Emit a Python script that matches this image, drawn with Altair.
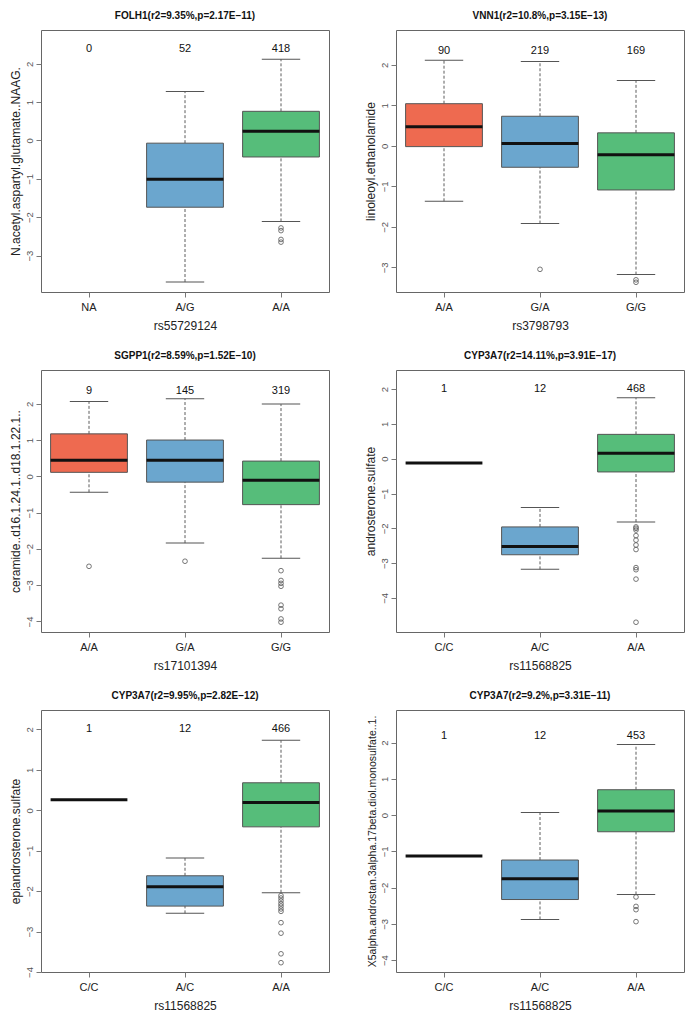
import altair as alt
import pandas as pd

# ---------------- data ----------------
titles = [
    "FOLH1(r2=9.35%,p=2.17E\u221211)",
    "VNN1(r2=10.8%,p=3.15E\u221213)",
    "SGPP1(r2=8.59%,p=1.52E\u221210)",
    "CYP3A7(r2=14.11%,p=3.91E\u221217)",
    "CYP3A7(r2=9.95%,p=2.82E\u221212)",
    "CYP3A7(r2=9.2%,p=3.31E\u221211)",
]
ytitles = [
    "N.acetyl.aspartyl.glutamate..NAAG.",
    "linoleoyl.ethanolamide",
    "ceramide..d16.1.24.1..d18.1.22.1..",
    "androsterone.sulfate",
    "epiandrosterone.sulfate",
    "X5alpha.androstan.3alpha.17beta.diol.monosulfate..1.",
]
xtitles = ["rs55729124", "rs3798793", "rs17101394", "rs11568825", "rs11568825", "rs11568825"]

genotypes = [
    ["NA", "A/G", "A/A"],
    ["A/A", "G/A", "G/G"],
    ["A/A", "G/A", "G/G"],
    ["C/C", "A/C", "A/A"],
    ["C/C", "A/C", "A/A"],
    ["C/C", "A/C", "A/A"],
]
counts = [
    [0, 52, 418],
    [90, 219, 169],
    [9, 145, 319],
    [1, 12, 468],
    [1, 12, 466],
    [1, 12, 453],
]
count_y = [2.38, 2.35, 2.36, 2.0, 2.0, 2.19]

lower = [
    [None, -3.69, -2.11],
    [-1.37, -1.92, -3.18],
    [-0.44, -1.84, -2.26],
    [None, -3.18, -1.82],
    [None, -2.55, -2.04],
    [None, -2.88, -2.19],
]
q1 = [
    [None, -1.74, -0.43],
    [-0.02, -0.53, -1.09],
    [0.11, -0.16, -0.78],
    [None, -2.76, -0.38],
    [None, -2.37, -0.41],
    [None, -2.33, -0.46],
]
median = [
    [None, -1.01, 0.24],
    [0.47, 0.06, -0.22],
    [0.44, 0.44, -0.11],
    [-0.12, -2.52, 0.16],
    [0.26, -1.89, 0.19],
    [-1.13, -1.76, 0.11],
]
q3 = [
    [None, -0.07, 0.76],
    [1.04, 0.73, 0.32],
    [1.17, 1.00, 0.42],
    [None, -1.96, 0.70],
    [None, -1.62, 0.68],
    [None, -1.24, 0.70],
]
upper = [
    [None, 1.28, 2.12],
    [2.11, 2.08, 1.61],
    [2.06, 2.14, 1.99],
    [None, -1.40, 1.75],
    [None, -1.18, 1.73],
    [None, 0.07, 1.95],
]
outliers = [
    [[], [], [-2.28, -2.35, -2.58, -2.65]],
    [[], [-3.05], [-3.31, -3.37]],
    [[-2.48], [-2.34], [-2.60, -2.87, -2.95, -3.03, -3.55, -3.65, -3.93, -4.02]],
    [[], [], [-1.96, -2.00, -2.05, -2.21, -2.34, -2.48, -2.61, -3.13, -3.19, -3.46, -4.70]],
    [[], [], [-2.11, -2.17, -2.24, -2.31, -2.37, -2.44, -2.50, -2.78, -3.04, -3.55, -3.77]],
    [[], [], [-2.26, -2.52, -2.61, -2.94]],
]
y_domains = [
    [-3.95, 2.88],
    [-3.61, 2.86],
    [-4.29, 2.93],
    [-4.98, 2.55],
    [-4.0, 2.48],
    [-4.33, 2.90],
]
y_ticks = [
    [-3, -2, -1, 0, 1, 2],
    [-3, -2, -1, 0, 1, 2],
    [-4, -3, -2, -1, 0, 1, 2],
    [-4, -3, -2, -1, 0, 1, 2],
    [-4, -3, -2, -1, 0, 1, 2],
    [-4, -3, -2, -1, 0, 1, 2],
]
slot_colors = ["#EE6A50", "#6BA6CE", "#56BD7A"]

W = 288
H = 262
BOX = 0.8 * W / 3
CAP = BOX / 2


def panel(i):
    cats = genotypes[i]
    box_df = pd.DataFrame({
        "g": cats,
        "slot": [0, 1, 2],
        "n": counts[i],
        "ny": [count_y[i]] * 3,
        "lo": lower[i],
        "q1": q1[i],
        "med": median[i],
        "q3": q3[i],
        "hi": upper[i],
    })
    out_rows = []
    for c, vals in zip(cats, outliers[i]):
        for v in vals:
            out_rows.append({"g": c, "v": v})
    out_df = pd.DataFrame(out_rows, columns=["g", "v"])

    ytsize = 10.5 if len(ytitles[i]) > 40 else 12
    x = alt.X("g:N", scale=alt.Scale(domain=cats, paddingInner=0, paddingOuter=0),
              sort=cats,
              axis=alt.Axis(title=xtitles[i], labelAngle=0))
    yscale = alt.Scale(domain=y_domains[i], nice=False, zero=False)
    yaxis = alt.Axis(title=ytitles[i], values=y_ticks[i], labelAngle=270,
                     labelAlign="center", labelBaseline="bottom", titleFontSize=ytsize)

    base = alt.Chart(box_df)
    whisk_lo = base.mark_rule(color="#333333", strokeDash=[3, 2], strokeWidth=0.8).encode(
        x=x, y=alt.Y("lo:Q", scale=yscale, axis=yaxis), y2="q1:Q")
    whisk_hi = base.mark_rule(color="#333333", strokeDash=[3, 2], strokeWidth=0.8).encode(
        x=x, y=alt.Y("q3:Q", scale=yscale, axis=yaxis), y2="hi:Q")
    cap_lo = base.mark_tick(color="#555555", size=CAP, thickness=1, opacity=1).encode(
        x=x, y=alt.Y("lo:Q", scale=yscale, axis=yaxis))
    cap_hi = base.mark_tick(color="#555555", size=CAP, thickness=1, opacity=1).encode(
        x=x, y=alt.Y("hi:Q", scale=yscale, axis=yaxis))
    boxes = base.mark_bar(width=alt.RelativeBandSize(0.8), stroke="#555555", strokeWidth=1).encode(
        x=x, y=alt.Y("q1:Q", scale=yscale, axis=yaxis), y2="q3:Q",
        color=alt.Color("slot:N", scale=alt.Scale(domain=[0, 1, 2], range=slot_colors), legend=None))
    med = base.mark_tick(color="#111111", size=BOX, thickness=3, opacity=1).encode(
        x=x, y=alt.Y("med:Q", scale=yscale, axis=yaxis))
    txt = base.mark_text(fontSize=11, color="#111111", font="Liberation Sans").encode(
        x=x, y=alt.Y("ny:Q", scale=yscale, axis=yaxis), text="n:Q")
    pts = alt.Chart(out_df).mark_point(shape="circle", filled=False, color="#555555",
                                       size=22, strokeWidth=0.8, opacity=1).encode(
        x=x, y=alt.Y("v:Q", scale=yscale, axis=yaxis))

    return alt.layer(whisk_lo, whisk_hi, cap_lo, cap_hi, boxes, med, txt, pts).properties(
        width=W, height=H,
        title=alt.TitleParams(titles[i], fontSize=10, fontWeight="bold", frame="group",
                              anchor="middle", offset=9, font="Liberation Sans",
                              color="#111111"),
    )


chart = alt.concat(
    *[panel(i) for i in range(6)], columns=2,
    spacing=alt.RowColnumber(row=78, column=67), bounds="flush",
).configure_view(
    stroke="#666666", strokeWidth=1
).configure_axis(
    grid=False, domain=False, tickColor="#777777", tickSize=5,
    labelColor="#555555", labelFont="Liberation Sans", labelFontSize=9.5,
    titleFont="Liberation Sans", titleFontSize=12, titleFontWeight="normal",
    titleColor="#222222",
).configure_axisX(
    labelFontSize=11, labelColor="#222222", labelPadding=4, titlePadding=8,
).configure_axisY(
    titlePadding=2, labelPadding=2,
).properties(padding={"left": 0, "top": 2, "right": 0, "bottom": 0})

chart.save("out.html", embed_options={"renderer": "svg", "actions": False})
